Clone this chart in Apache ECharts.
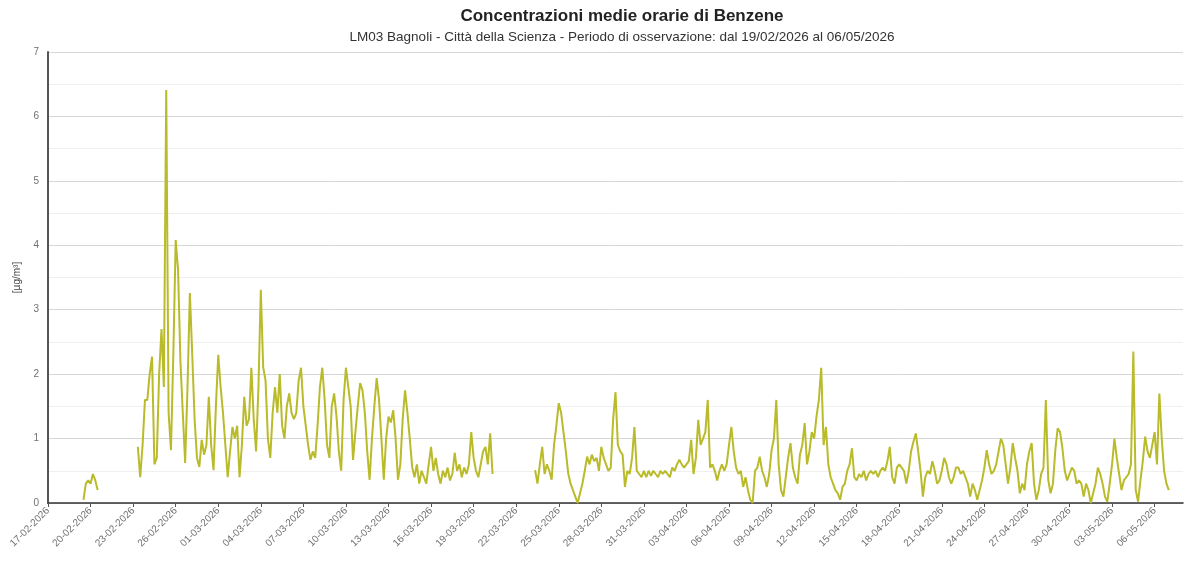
<!DOCTYPE html>
<html>
<head>
<meta charset="utf-8">
<title>Benzene - LM03 Bagnoli</title>
<script src="https://cdn.jsdelivr.net/npm/echarts@6/dist/echarts.min.js"></script>
<style>
  html, body { margin: 0; padding: 0; background: #ffffff; }
  #chart { width: 1194px; height: 573px; }
</style>
</head>
<body>
<div id="chart"></div>
<script>
// Axis span and tick spacing (days)
const AXIS_START = '2026-02-17';
const AXIS_END = '2026-05-08';
const TICK_STEP_DAYS = 3;

// Readings are stored every 4 hours, one block per uninterrupted period
const STEP_HOURS = 4;

const block1Start = '2026-02-19 12:00';
const block1Values = [0.05, 0.3, 0.35, 0.3, 0.45, 0.35, 0.2];

const block2Start = '2026-02-23 08:00';
const block2Values = [
  0.87, 0.4, 0.9, 1.6, 1.6, 2.0, 2.27, 0.6, 0.7, 2.0,
  2.7, 1.8, 6.41, 1.4, 0.82, 2.3, 4.08, 3.62, 2.2, 1.4,
  0.62, 1.8, 3.26, 2.3, 1.3, 0.7, 0.56, 0.98, 0.75, 0.9,
  1.65, 0.9, 0.51, 1.5, 2.3, 1.8, 1.4, 0.9, 0.4, 0.8,
  1.18, 1.0, 1.2, 0.4, 0.9, 1.65, 1.2, 1.3, 2.1, 1.3,
  0.8, 1.8, 3.31, 2.11, 1.9, 1.0, 0.7, 1.4, 1.8, 1.4,
  2.0, 1.2, 1.0, 1.5, 1.7, 1.4, 1.3, 1.4, 1.9, 2.1,
  1.5, 1.2, 0.9, 0.67, 0.8, 0.7, 1.2, 1.8, 2.1, 1.6,
  0.9, 0.7, 1.5, 1.7, 1.35, 0.8, 0.5, 1.6, 2.1, 1.8,
  1.5, 0.67, 1.1, 1.5, 1.86, 1.75, 1.4, 0.8, 0.36, 1.0,
  1.5, 1.94, 1.6, 1.0, 0.36, 1.0, 1.34, 1.25, 1.44, 1.0,
  0.36, 0.6, 1.3, 1.75, 1.4, 1.0, 0.56, 0.4, 0.6, 0.3,
  0.5, 0.4, 0.3, 0.6, 0.87, 0.5, 0.7, 0.45, 0.3, 0.5,
  0.4, 0.55, 0.35, 0.45, 0.78, 0.5, 0.6, 0.4, 0.55, 0.45,
  0.6, 1.1, 0.7, 0.5, 0.4, 0.6, 0.8, 0.87, 0.6, 1.08,
  0.45
];

const block3Start = '2026-03-23 08:00';
const block3Values = [
  0.51, 0.3, 0.6, 0.87, 0.45, 0.6, 0.5, 0.36, 0.9, 1.2,
  1.55, 1.4, 1.1, 0.8, 0.46, 0.3, 0.2, 0.1, 0.0, 0.15,
  0.3, 0.5, 0.72, 0.6, 0.75, 0.65, 0.7, 0.5, 0.87, 0.7,
  0.6, 0.5, 0.55, 1.3, 1.72, 0.9, 0.8, 0.75, 0.25, 0.5,
  0.45, 0.7, 1.18, 0.5, 0.45, 0.4, 0.5, 0.4, 0.5, 0.42,
  0.5, 0.45, 0.4, 0.5, 0.45, 0.5, 0.45, 0.4, 0.55, 0.5,
  0.6, 0.67, 0.6, 0.55, 0.6, 0.65, 0.98, 0.45, 0.7, 1.29,
  0.9, 1.0, 1.1, 1.6, 0.55, 0.6, 0.5, 0.35, 0.5, 0.6,
  0.5, 0.6, 0.9, 1.18, 0.8, 0.55, 0.45, 0.5, 0.25, 0.4,
  0.2, 0.05, 0.0, 0.5, 0.55, 0.72, 0.5, 0.4, 0.25, 0.45,
  0.82, 1.0, 1.6, 0.6, 0.2, 0.1, 0.4, 0.7, 0.93, 0.55,
  0.4, 0.3, 0.75, 0.9, 1.24, 0.6, 0.8, 1.1, 1.0, 1.34,
  1.6, 2.1, 0.9, 1.18, 0.6, 0.4, 0.3, 0.2, 0.15, 0.05,
  0.25, 0.3, 0.5, 0.6, 0.85, 0.4, 0.35, 0.45, 0.4, 0.5,
  0.35, 0.45, 0.5, 0.45, 0.5, 0.4, 0.5, 0.55, 0.5, 0.65,
  0.87, 0.4, 0.3, 0.55, 0.6, 0.55, 0.5, 0.3, 0.5, 0.8,
  0.95, 1.08, 0.8, 0.5, 0.1, 0.4, 0.5, 0.45, 0.65, 0.5,
  0.3, 0.35, 0.5, 0.7, 0.6, 0.4, 0.3, 0.4, 0.55, 0.55,
  0.45, 0.5, 0.4, 0.3, 0.1, 0.3, 0.2, 0.05, 0.2, 0.35,
  0.55, 0.82, 0.6, 0.45, 0.5, 0.6, 0.8, 1.0, 0.9, 0.6,
  0.3, 0.55, 0.93, 0.7, 0.5, 0.15, 0.3, 0.2, 0.6, 0.8,
  0.93, 0.3, 0.05, 0.2, 0.45, 0.55, 1.6, 0.36, 0.15, 0.3,
  0.82, 1.16, 1.1, 0.85, 0.5, 0.35, 0.45, 0.55, 0.5, 0.3,
  0.35, 0.3, 0.1, 0.3, 0.2, 0.0, 0.15, 0.3, 0.55, 0.45,
  0.3, 0.1, 0.02, 0.3, 0.6, 1.0, 0.7, 0.45, 0.2, 0.35,
  0.4, 0.45, 0.6, 2.35, 0.2, 0.02, 0.35, 0.65, 1.03, 0.8,
  0.7, 0.9, 1.1, 0.6, 1.7, 1.0, 0.5, 0.3, 0.2
];

const blocks = [
  { start: block1Start, values: block1Values },
  { start: block2Start, values: block2Values },
  { start: block3Start, values: block3Values }
];

const DAY_MS = 86400000;

function utcMs(text) {
  const [d, t] = text.split(' ');
  const [y, m, dd] = d.split('-').map(Number);
  const [hh, mm] = (t || '00:00').split(':').map(Number);
  return Date.UTC(y, m - 1, dd, hh, mm);
}

const originMs = utcMs(AXIS_START);
const endDays = (utcMs(AXIS_END) - originMs) / DAY_MS;

// x is expressed in days since AXIS_START; a '-' point breaks the line between blocks
const seriesData = [];
blocks.forEach((b, bi) => {
  const startDays = (utcMs(b.start) - originMs) / DAY_MS;
  b.values.forEach((v, i) => {
    seriesData.push([startDays + i * STEP_HOURS / 24, v]);
  });
  if (bi < blocks.length - 1) {
    const lastDays = startDays + (b.values.length - 1) * STEP_HOURS / 24;
    seriesData.push([lastDays + STEP_HOURS / 48, '-']);
  }
});

function pad(n) { return n < 10 ? '0' + n : '' + n; }
function dayLabel(days) {
  const dt = new Date(originMs + Math.round(days * DAY_MS));
  return pad(dt.getUTCDate()) + '-' + pad(dt.getUTCMonth() + 1) + '-' + dt.getUTCFullYear();
}

const FONT = '"Liberation Sans", Arial, Helvetica, sans-serif';

const chart = echarts.init(document.getElementById('chart'), null, { renderer: 'canvas' });
chart.setOption({
  animation: false,
  backgroundColor: '#ffffff',
  textStyle: { fontFamily: FONT },
  title: {
    text: 'Concentrazioni medie orarie di Benzene',
    subtext: 'LM03 Bagnoli - Città della Scienza - Periodo di osservazione: dal 19/02/2026 al 06/05/2026',
    left: 617,
    textAlign: 'center',
    top: 3,
    itemGap: 5,
    textStyle: { fontFamily: FONT, fontSize: 17, fontWeight: 'bold', color: '#222222' },
    subtextStyle: { fontFamily: FONT, fontSize: 13.5, color: '#333333' }
  },
  grid: { left: 48, right: 11, top: 52, bottom: 70, containLabel: false },
  xAxis: {
    type: 'value',
    min: 0,
    max: endDays,
    interval: TICK_STEP_DAYS,
    axisLine: { show: true, onZero: false, lineStyle: { color: '#333333', width: 1.5 } },
    axisTick: { show: true, length: 4, lineStyle: { color: '#555555' } },
    splitLine: { show: false },
    axisLabel: {
      rotate: 45,
      fontSize: 10,
      color: '#707070',
      margin: 6,
      showMaxLabel: false,
      formatter: dayLabel
    }
  },
  yAxis: {
    type: 'value',
    min: 0,
    max: 7,
    interval: 1,
    name: '[µg/m³]',
    nameLocation: 'middle',
    nameGap: 19,
    nameRotate: 90,
    nameTextStyle: { fontSize: 10, color: '#444444' },
    axisLine: { show: true, lineStyle: { color: '#555555', width: 2 } },
    axisTick: { show: false },
    axisLabel: { fontSize: 10, color: '#707070', margin: 9 },
    splitLine: { show: true, lineStyle: { color: '#d6d6d6', width: 1 } },
    minorTick: { show: false, splitNumber: 2 },
    minorSplitLine: { show: true, lineStyle: { color: '#efefef', width: 1 } }
  },
  series: [{
    name: 'Benzene',
    type: 'line',
    data: seriesData,
    showSymbol: false,
    connectNulls: false,
    lineStyle: { color: '#b9bb2a', width: 2 },
    itemStyle: { color: '#b9bb2a' }
  }]
});
</script>
</body>
</html>
